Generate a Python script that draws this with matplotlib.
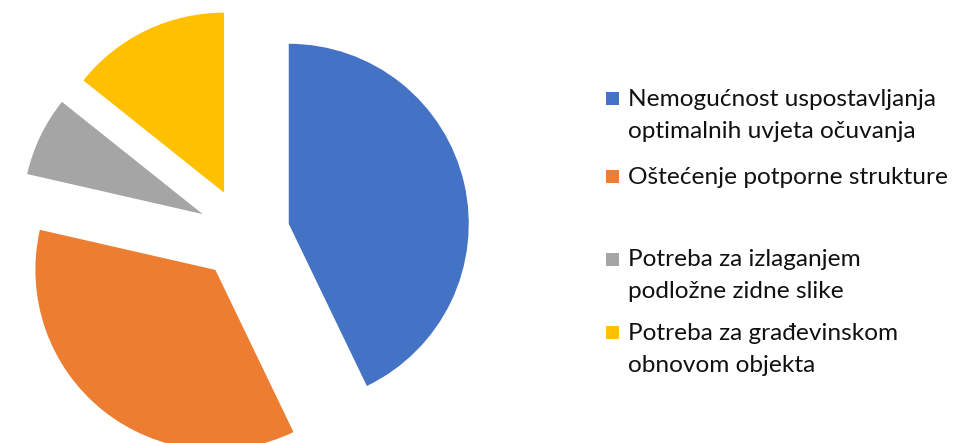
import matplotlib
matplotlib.use("Agg")
import matplotlib.pyplot as plt
from matplotlib.patches import Rectangle

# Razlozi za skidanje zidnih slika (broj slučajeva)
labels = [
    "Nemogućnost uspostavljanja\noptimalnih uvjeta očuvanja",
    "Oštećenje potporne strukture",
    "Potreba za izlaganjem\npodložne zidne slike",
    "Potreba za građevinskom\nobnovom objekta",
]
counts = [6, 5, 1, 2]
colors = ["#4472C4", "#ED7D31", "#A5A5A5", "#FFC000"]

W, H = 957, 443
fig = plt.figure(figsize=(W / 100, H / 100), dpi=100)
ax = fig.add_axes([0, 0, 1, 1])

radius = 180
center = (244, H - 234)
# explode offsets are in data units, so scale by the radius
ax.pie(counts, colors=colors, startangle=90, counterclock=False,
       radius=radius, center=center, explode=[0.255 * radius] * len(counts),
       wedgeprops=dict(linewidth=0))
ax.set_xlim(0, W)
ax.set_ylim(0, H)
ax.set_aspect("equal")
ax.axis("off")

# Legend drawn by hand: a square marker beside each (multi-line) label
marker_y = [98.5, 176.5, 259, 332.5]
for lab, col, my in zip(labels, colors, marker_y):
    y = H - my
    ax.add_patch(Rectangle((606, y - 6.5), 13, 13, color=col, linewidth=0))
    ax.text(628, y + 9.5, lab, ha="left", va="top", fontsize=17.6,
            family="Lato", color="#111111", linespacing=1.62)

fig.savefig("out.png", dpi=100)
